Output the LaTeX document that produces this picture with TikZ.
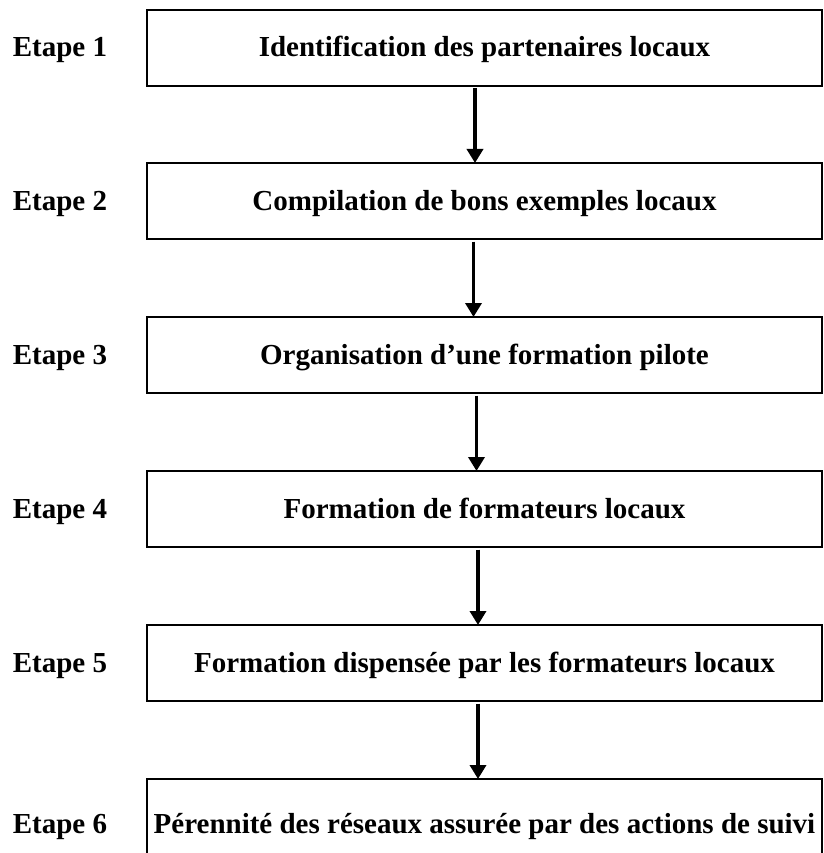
\documentclass[tikz,border=0pt]{standalone}
\usepackage{fontspec}
\setmainfont{Liberation Serif}
\usetikzlibrary{arrows.meta}
\begin{document}
\begin{tikzpicture}[x=1pt,y=-1pt,
  every node/.style={font=\fontsize{29}{32}\selectfont\bfseries},
  stepbox/.style={draw, line width=2.2pt, minimum width=675pt, inner sep=0pt, outer sep=0pt,
    text height=47pt, text depth=29pt, anchor=north},
  steplabel/.style={anchor=base, inner sep=0pt},
  arr/.style={line width=3.5pt, -{Triangle[length=14pt,width=16pt]}, shorten <=2.5pt}]
\useasboundingbox (0,0) rectangle (823,853);
\clip (0,0) rectangle (823,853);
\node[stepbox] (b1) at (484.5,10) {Identification des partenaires locaux};
\node[stepbox] (b2) at (484.5,163) {Compilation de bons exemples locaux};
\node[stepbox] (b3) at (484.5,317) {Organisation d’une formation pilote};
\node[stepbox] (b4) at (484.5,471) {Formation de formateurs locaux};
\node[stepbox] (b5) at (484.5,625) {Formation dispensée par les formateurs locaux};
\node[stepbox, text height=54pt, text depth=40pt] (b6) at (484.5,779) {Pérennité des réseaux assurée par des actions de suivi};
\node[steplabel] (e1) at (60,57) {Etape 1};
\node[steplabel] (e2) at (60,210) {Etape 2};
\node[steplabel] (e3) at (60,364) {Etape 3};
\node[steplabel] (e4) at (60,518) {Etape 4};
\node[steplabel] (e5) at (60,672) {Etape 5};
\node[steplabel] (e6) at (60,833) {Etape 6};
\draw[arr] ([xshift=-9.5pt]b1.south) -- ([xshift=-9.5pt]b2.north);
\draw[arr] ([xshift=-11pt]b2.south) -- ([xshift=-11pt]b3.north);
\draw[arr] ([xshift=-8pt]b3.south) -- ([xshift=-8pt]b4.north);
\draw[arr] ([xshift=-6.5pt]b4.south) -- ([xshift=-6.5pt]b5.north);
\draw[arr] ([xshift=-6.5pt]b5.south) -- ([xshift=-6.5pt]b6.north);
\end{tikzpicture}
\end{document}
